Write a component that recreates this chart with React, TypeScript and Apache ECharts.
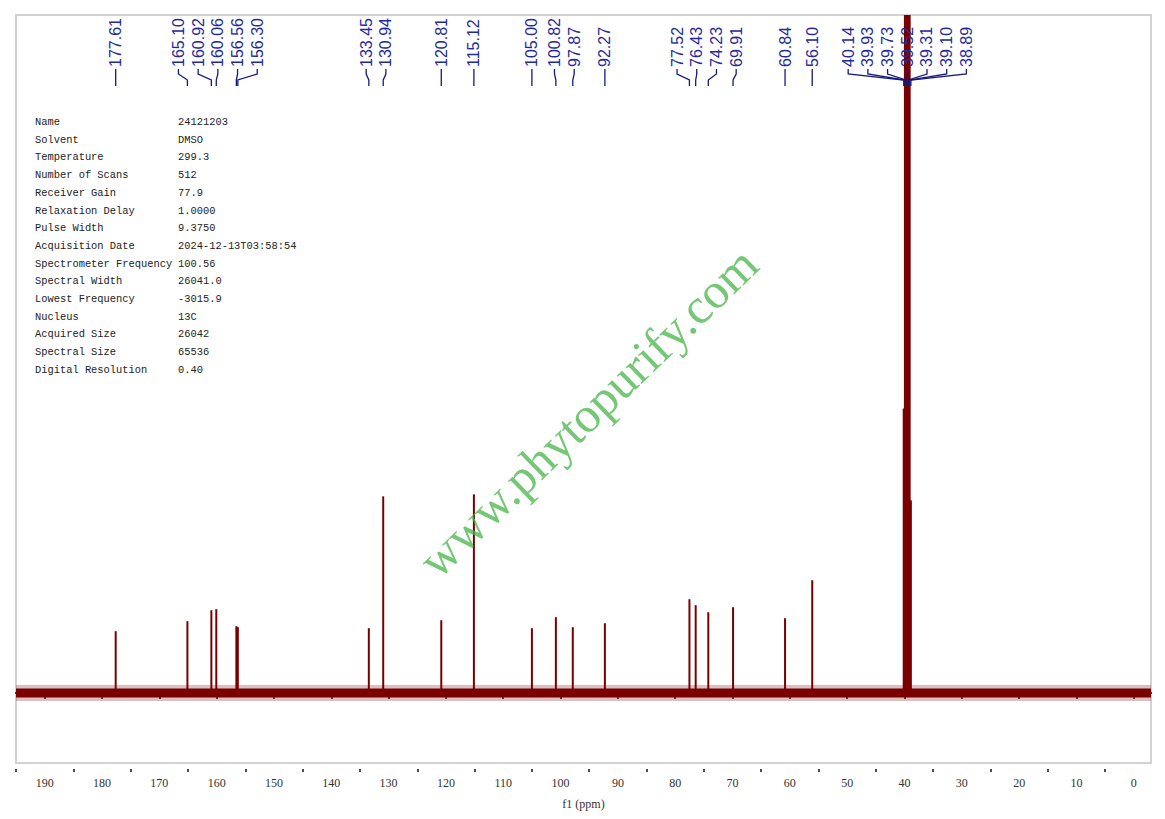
import React, { useEffect, useRef } from "react";
import * as echarts from "echarts";

// ---- data ----
const ppmMin = -3;
const ppmMax = 195;
const majorTicks = [0, 10, 20, 30, 40, 50, 60, 70, 80, 90, 100, 110, 120, 130, 140, 150, 160, 170, 180, 190];
const minorTicks = [5, 15, 25, 35, 45, 55, 65, 75, 85, 95, 105, 115, 125, 135, 145, 155, 165, 175, 185, 195];

// peak positions (ppm) and heights (arbitrary intensity units above baseline)
const peakShifts = [
  177.61, 165.1, 160.92, 160.06, 156.56, 156.3, 133.45, 130.94, 120.81, 115.12,
  105.0, 100.82, 97.87, 92.27, 77.52, 76.43, 74.23, 69.91, 60.84, 56.1,
  40.14, 39.93, 39.73, 39.52, 39.31, 39.1, 38.89,
];
const peakHeights = [
  62, 72, 83, 84, 67, 66, 65, 197, 73, 199,
  65, 76, 66, 70, 94, 88, 81, 86, 75, 113,
  285, 1000, 1000, 1000, 1000, 1000, 193,
];
const peakLabels = [
  "177.61", "165.10", "160.92", "160.06", "156.56", "156.30", "133.45", "130.94", "120.81", "115.12",
  "105.00", "100.82", "97.87", "92.27", "77.52", "76.43", "74.23", "69.91", "60.84", "56.10",
  "40.14", "39.93", "39.73", "39.52", "39.31", "39.10", "38.89",
];

const paramNames = [
  "Name", "Solvent", "Temperature", "Number of Scans", "Receiver Gain", "Relaxation Delay",
  "Pulse Width", "Acquisition Date", "Spectrometer Frequency", "Spectral Width",
  "Lowest Frequency", "Nucleus", "Acquired Size", "Spectral Size", "Digital Resolution",
];
const paramValues = [
  "24121203", "DMSO", "299.3", "512", "77.9", "1.0000", "9.3750", "2024-12-13T03:58:54",
  "100.56", "26041.0", "-3015.9", "13C", "26042", "65536", "0.40",
];

const SPEC = "#7a0000";
const LABEL = "#1f2a9c";
const LINK = "#141a7a";

export default function App() {
  const ref = useRef<HTMLDivElement>(null);

  useEffect(() => {
    const chart = echarts.init(ref.current!, null, { renderer: "svg" });
    const xBase = {
      type: "value",
      min: ppmMin,
      max: ppmMax,
      inverse: true,
      position: "bottom",
      offset: 6,
      splitLine: { show: false },
    };
    const option: any = {
      animation: false,
      backgroundColor: "#fff",
      grid: {
        left: 16,
        right: 14,
        top: 15,
        bottom: 56,
        show: true,
        borderColor: "#d2d2d2",
        borderWidth: 2,
        backgroundColor: "transparent",
      },
      xAxis: [
        {
          ...xBase,
          name: "f1 (ppm)",
          nameLocation: "middle",
          nameGap: 29,
          nameTextStyle: { fontFamily: "Liberation Serif", fontSize: 12, color: "#333" },
          axisLine: { show: true, lineStyle: { color: "#111", width: 2 } },
          axisTick: { show: true, customValues: majorTicks, length: 6, lineStyle: { color: "#111", width: 1.5 } },
          axisLabel: {
            show: true,
            customValues: majorTicks,
            margin: 8,
            fontFamily: "Liberation Serif",
            fontSize: 12,
            color: "#333",
          },
        },
        {
          ...xBase,
          axisLine: { show: false },
          axisTick: { show: true, customValues: minorTicks, length: 3, lineStyle: { color: "#111", width: 1.5 } },
          axisLabel: { show: false },
        },
      ],
      yAxis: { type: "value", min: -70, max: 679, show: false, splitLine: { show: false } },
      series: [
        {
          type: "line",
          data: [[ppmMin, 0], [ppmMax, 0]],
          symbol: "none",
          lineStyle: { color: SPEC, width: 16, opacity: 0.25 },
          silent: true,
          z: 1,
        },
        {
          type: "line",
          data: [[ppmMin, 0], [ppmMax, 0]],
          symbol: "none",
          lineStyle: { color: SPEC, width: 9 },
          silent: true,
          z: 2,
        },
        {
          type: "bar",
          data: peakShifts.map((s, i) => [s, peakHeights[i]]),
          barWidth: 2,
          itemStyle: { color: SPEC },
          clip: true,
          z: 3,
        },
      ],
    };
    chart.setOption(option);

    // ---- label layout: spread overlapping labels evenly around their peaks ----
    const px = peakShifts.map((s) => chart.convertToPixel({ xAxisIndex: 0 }, s) as number);
    const order = px.map((_, i) => i).sort((a, b) => px[a] - px[b]);
    const S = 19.7;
    let clusters = order.map((i) => ({ idx: [i], sum: px[i] }));
    const center = (c: { idx: number[]; sum: number }) => c.sum / c.idx.length;
    let changed = true;
    while (changed) {
      changed = false;
      for (let k = 0; k < clusters.length - 1; k++) {
        const a = clusters[k];
        const b = clusters[k + 1];
        const aEnd = center(a) + ((a.idx.length - 1) * S) / 2;
        const bStart = center(b) - ((b.idx.length - 1) * S) / 2;
        if (bStart - aEnd < S) {
          clusters.splice(k, 2, { idx: a.idx.concat(b.idx), sum: a.sum + b.sum });
          changed = true;
          break;
        }
      }
    }
    const labelX: number[] = new Array(px.length);
    clusters.forEach((c) => {
      const start = center(c) - ((c.idx.length - 1) * S) / 2;
      c.idx.forEach((i, k) => (labelX[i] = start + k * S));
    });

    const graphics: any[] = [];
    peakLabels.forEach((t, i) => {
      graphics.push({
        type: "text",
        x: labelX[i],
        y: 67,
        rotation: Math.PI / 2,
        style: {
          text: t,
          fill: LABEL,
          font: '16px "Liberation Sans", Arial, sans-serif',
          textAlign: "left",
          textVerticalAlign: "middle",
        },
        z: 10,
      });
      graphics.push({
        type: "polyline",
        shape: {
          points: [
            [labelX[i], 69],
            [labelX[i], 74],
            [px[i], 80],
            [px[i], 86],
          ],
        },
        style: { stroke: LINK, lineWidth: 1.3, fill: "none" },
        z: 10,
      });
    });

    paramNames.forEach((n, i) => {
      const y = 122 + i * 17.7;
      graphics.push({
        type: "text",
        x: 35,
        y,
        style: { text: n, fill: "#222", font: '10.4px "Liberation Mono", monospace', textVerticalAlign: "middle" },
      });
      graphics.push({
        type: "text",
        x: 178,
        y,
        style: { text: paramValues[i], fill: "#222", font: '10.4px "Liberation Mono", monospace', textVerticalAlign: "middle" },
      });
    });

    graphics.push({
      type: "text",
      x: 588,
      y: 412,
      rotation: (44 * Math.PI) / 180,
      style: {
        text: "www.phytopurify.com",
        fill: "rgba(70,180,70,0.75)",
        font: '50px "Liberation Serif", serif',
        textAlign: "center",
        textVerticalAlign: "middle",
      },
      z: 20,
    });

    chart.setOption({ graphic: graphics });
    return () => chart.dispose();
  }, []);

  return <div ref={ref} style={{ position: "fixed", left: 0, top: 0, width: 1165, height: 819 }} />;
}
